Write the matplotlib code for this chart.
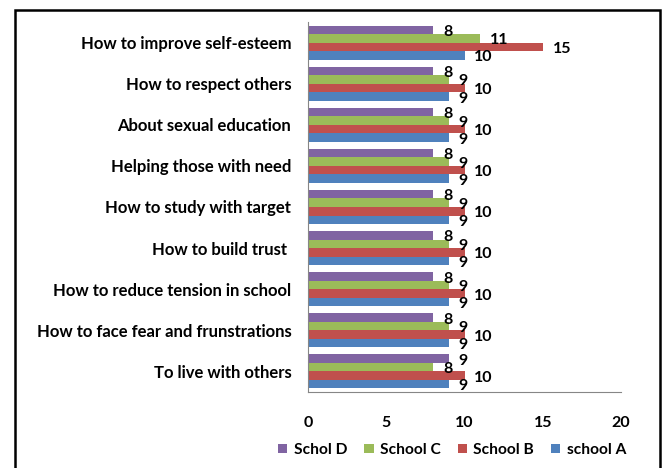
import numpy as np
import matplotlib.pyplot as plt
from matplotlib.patches import Rectangle, Patch

plt.rcParams['font.family'] = ['Lato', 'DejaVu Sans']
plt.rcParams['font.weight'] = 'bold'

categories = ["How to improve self-esteem", "How to respect others",
              "About sexual education", "Helping those with need",
              "How to study with target", "How to build trust ",
              "How to reduce tension in school",
              "How to face fear and frunstrations", "To live with others"]

# series, top bar to bottom bar inside each group
series_names = ["Schol D", "School C", "School B", "school A"]
schol_d = [8, 8, 8, 8, 8, 8, 8, 8, 9]
school_c = [11, 9, 9, 9, 9, 9, 9, 9, 8]
school_b = [15, 10, 10, 10, 10, 10, 10, 10, 10]
school_a = [10, 9, 9, 9, 9, 9, 9, 9, 9]
colors = ["#8064A2", "#9BBB59", "#C0504D", "#4F81BD"]

fig = plt.figure(figsize=(6.63, 4.68), dpi=100)
ax = fig.add_axes([308 / 663, 76 / 468, 313 / 663, 370 / 468])

y = np.arange(len(categories))
h = 0.207
for k, (vals, col) in enumerate(zip([schol_d, school_c, school_b, school_a], colors)):
    pos = y + (k - 1.5) * h
    ax.barh(pos, vals, height=h, color=col)
    for p, v in zip(pos, vals):
        ax.annotate(str(v), (v, p), xytext=(7, -1.5), textcoords='offset points',
                    ha='left', va='center', fontsize=11.5, fontweight='bold')

ax.set_ylim(len(categories) - 0.5, -0.5)
ax.set_xlim(0, 20)
ax.set_xticks([0, 5, 10, 15, 20])
ax.set_yticks(y)
ax.set_yticklabels(categories, fontsize=12, fontweight='bold')
ax.tick_params(axis='y', length=0, pad=12)
ax.tick_params(axis='x', length=0, pad=17, labelsize=11.5)
for s in ['top', 'right']:
    ax.spines[s].set_visible(False)
for s in ['left', 'bottom']:
    ax.spines[s].set_color('#868686')

handles = [Patch(facecolor=c, edgecolor='none') for c in colors]
fig.legend(handles, series_names, loc='center', ncol=4,
           bbox_to_anchor=(452 / 663, 18 / 468), frameon=False,
           handlelength=0.6, handleheight=0.6, handletextpad=0.4,
           columnspacing=1.1, prop={'size': 11.2, 'weight': 'bold'})

fig.patches.append(Rectangle((15 / 663, -0.05), 645 / 663, 1.05 - 10 / 468,
                             transform=fig.transFigure, fill=False,
                             edgecolor='black', linewidth=1.8))

fig.savefig('out.png', dpi=100)
